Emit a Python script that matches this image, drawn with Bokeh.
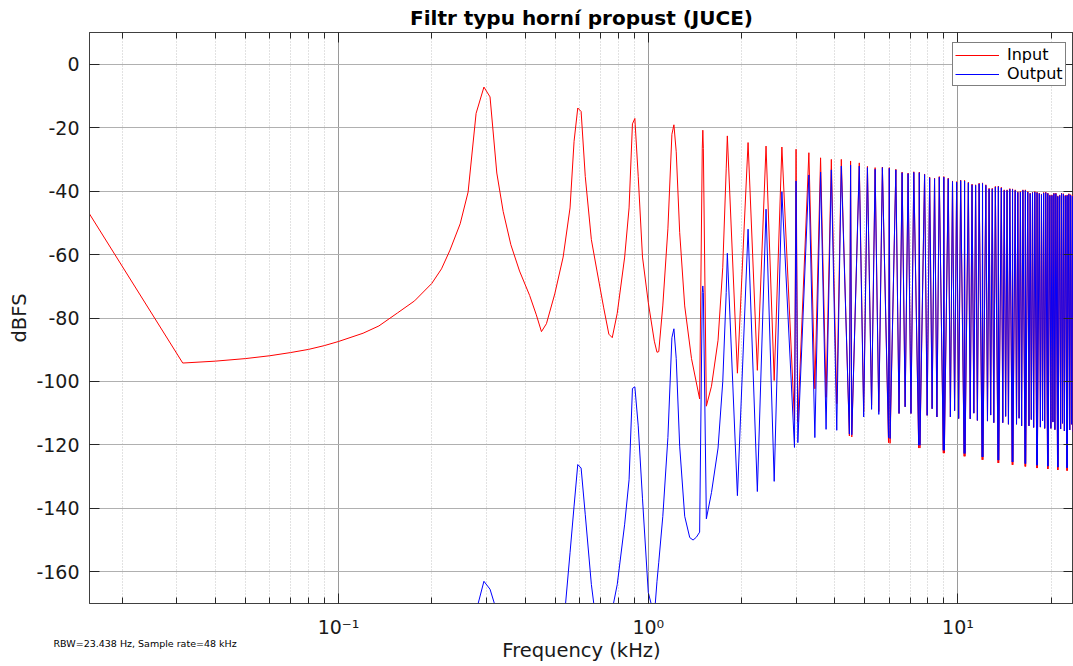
from bokeh.plotting import figure
from bokeh.models import (Range1d, FixedTicker, CustomJSTickFormatter, LogAxis, LinearAxis,
                          Title, Legend, LegendItem)
from bokeh.embed import file_html
from bokeh.resources import INLINE

# ---------------- data ----------------
# low-frequency part of the input spectrum (kHz, dBFS)
input_low_khz = [0.0157, 0.0314, 0.040, 0.050, 0.060, 0.070, 0.080, 0.090, 0.100, 0.120,
                 0.135, 0.155, 0.176, 0.200, 0.215, 0.229, 0.247, 0.262, 0.278, 0.2947,
                 0.3084, 0.3243, 0.340, 0.360, 0.384, 0.414, 0.435, 0.452, 0.469, 0.499,
                 0.531, 0.559, 0.576, 0.592, 0.607, 0.626, 0.655, 0.683, 0.718, 0.746,
                 0.765, 0.794, 0.839, 0.867, 0.889, 0.905, 0.928, 0.958, 1.000, 1.046,
                 1.067, 1.081, 1.114, 1.157, 1.192, 1.210, 1.231, 1.263, 1.311, 1.379,
                 1.465]
input_low_db = [-47.2, -94.2, -93.6, -92.8, -91.9, -90.9, -89.9, -88.7, -87.4, -84.8,
                -82.5, -78.4, -74.6, -69.1, -64.5, -58.6, -50.3, -40.3, -15.5, -7.2,
                -10.3, -34.3, -46.4, -56.9, -65.2, -72.9, -79.0, -84.3, -81.8, -72.4,
                -60.8, -45.3, -24.3, -13.8, -14.9, -35.4, -55.3, -65.2, -76.8, -85.1,
                -86.2, -78.5, -60.8, -45.3, -18.8, -17.1, -35.4, -60.8, -75.1, -87.3,
                -90.8, -90.6, -76.2, -51.9, -22.1, -19.1, -27.6, -53.0, -76.2, -92.8,
                -105.5]

# low-frequency part of the output spectrum (values below -170 are off the chart)
output_low_khz = [0.262, 0.278, 0.2947, 0.3084, 0.3243, 0.360, 0.452, 0.531, 0.559, 0.576,
                  0.592, 0.607, 0.626, 0.655, 0.683, 0.746, 0.765, 0.794, 0.839, 0.867,
                  0.889, 0.905, 0.928, 0.958, 1.000, 1.046, 1.067, 1.081, 1.114, 1.157,
                  1.192, 1.210, 1.231, 1.263, 1.311, 1.361, 1.395, 1.430, 1.465]
output_low_db = [-190.0, -172.5, -163.0, -165.5, -172.5, -190.0, -200.0, -178.8, -154.0, -139.3,
                 -126.2, -127.3, -142.0, -164.0, -178.0, -190.0, -172.0, -164.0, -145.0, -131.0,
                 -102.2, -101.7, -114.0, -137.0, -166.5, -174.0, -163.0, -157.0, -142.6, -117.7,
                 -86.2, -83.4, -92.8, -120.4, -142.5, -149.2, -150.0, -149.1, -147.5]

# harmonic region (peaks and troughs) from the 5th harmonic upwards
harm_khz = [1.494, 1.500, 1.506, 1.540, 1.600, 1.680, 1.740, 1.785, 1.800, 1.940,
            2.100, 2.250, 2.400, 2.550, 2.700, 2.965, 3.000, 3.040, 3.300, 3.450,
            3.600, 3.750, 3.900, 4.060, 4.200, 4.460, 4.500, 4.540, 4.800, 4.960,
            5.100, 5.260, 5.400, 5.550, 5.700, 5.965, 6.000, 6.035,
            6.300, 6.450, 6.600, 6.750, 6.900, 7.050, 7.200, 7.465, 7.500, 7.535,
            7.800, 7.950, 8.100, 8.250, 8.400, 8.550, 8.700, 8.965, 9.000, 9.035,
            9.300, 9.450, 9.600, 9.750, 9.900, 10.050, 10.200, 10.465, 10.500, 10.535,
            10.800, 10.950, 11.100, 11.250, 11.400, 11.550, 11.700, 11.965, 12.000, 12.035,
            12.300, 12.450, 12.600, 12.750, 12.900, 13.050, 13.200, 13.465, 13.500, 13.535,
            13.800, 13.950, 14.100, 14.250, 14.400, 14.550, 14.700, 14.965, 15.000, 15.035,
            15.300, 15.450, 15.600, 15.750, 15.900, 16.050, 16.200, 16.465, 16.500, 16.535,
            16.800, 16.950, 17.100, 17.250, 17.400, 17.550, 17.700, 17.965, 18.000, 18.035,
            18.300, 18.450, 18.600, 18.750, 18.900, 19.050, 19.200, 19.465, 19.500, 19.535,
            19.800, 19.950, 20.100, 20.250, 20.400, 20.550, 20.700, 20.965, 21.000, 21.035,
            21.300, 21.450, 21.600, 21.750, 21.900, 22.050, 22.200, 22.465, 22.500, 22.535,
            22.800, 22.950, 23.100, 23.250, 23.400, 23.550, 23.700, 23.965, 24.000]
harm_input_db = [-26.5, -20.8, -26.5, -107.8, -101.5, -87.0, -64.0, -33.0, -22.6, -97.4,
                 -24.7, -96.5, -25.8, -99.7, -26.1, -112.2, -26.8, -112.8, -27.9, -102.3,
                 -29.5, -105.0, -30.0, -107.0, -30.0, -117.2, -30.5, -117.5, -31.1, -109.5,
                 -32.2, -107.5, -32.6, -109.5, -32.4, -119.3, -32.6, -119.5,
                 -33.1, -110.1, -34.0, -108.0, -34.3, -110.1, -33.9, -121.0, -34.0, -121.0,
                 -34.6, -110.7, -35.6, -108.6, -35.9, -111.2, -35.4, -122.6, -35.4, -122.6,
                 -35.9, -111.2, -36.8, -109.2, -37.0, -111.7, -36.5, -123.6, -36.6, -123.6,
                 -37.2, -111.8, -37.8, -110.0, -38.0, -112.3, -37.5, -124.7, -37.4, -124.7,
                 -38.0, -112.5, -39.1, -110.6, -39.1, -113.0, -38.5, -125.7, -38.4, -125.7,
                 -38.8, -113.0, -39.6, -111.0, -39.6, -113.5, -39.2, -126.3, -39.3, -126.3,
                 -39.6, -113.5, -40.2, -111.6, -40.1, -114.0, -39.6, -126.8, -39.6, -126.8,
                 -40.1, -114.0, -40.6, -112.0, -40.3, -114.5, -40.1, -127.3, -40.3, -127.3,
                 -40.6, -114.4, -40.9, -112.4, -40.4, -114.8, -40.3, -127.6, -40.6, -127.6,
                 -41.2, -114.8, -41.2, -112.8, -40.6, -115.2, -40.6, -127.9, -41.5, -127.9,
                 -41.2, -115.0, -40.6, -113.2, -40.8, -115.6, -41.3, -128.1, -41.2, -128.1,
                 -40.8, -115.3, -41.1, -113.5, -41.4, -115.8, -41.0, -128.2, -41.2]
harm_output_db = [-72.0, -69.9, -72.0, -143.3, -135.0, -121.0, -100.0, -72.0, -59.6, -136.0,
                  -52.0, -134.7, -45.7, -131.5, -40.2, -120.8, -36.8, -119.3, -34.9, -117.7,
                  -34.0, -115.1, -33.3, -115.4, -32.1, -116.6, -31.8, -116.8, -32.1, -111.2,
                  -32.6, -108.8, -33.1, -110.4, -32.6, -117.7, -32.8, -118.0,
                  -33.3, -110.1, -34.2, -108.0, -34.5, -110.1, -34.1, -120.1, -34.2, -120.1,
                  -34.8, -110.7, -35.8, -108.6, -36.1, -111.2, -35.6, -121.7, -35.6, -121.7,
                  -36.1, -111.2, -37.0, -109.2, -37.2, -111.7, -36.7, -122.7, -36.8, -122.7,
                  -37.4, -111.8, -38.0, -110.0, -38.2, -112.3, -37.7, -123.8, -37.6, -123.8,
                  -38.2, -112.5, -39.3, -110.6, -39.3, -113.0, -38.7, -124.8, -38.6, -124.8,
                  -39.0, -113.0, -39.8, -111.0, -39.8, -113.5, -39.4, -125.4, -39.5, -125.4,
                  -39.8, -113.5, -40.4, -111.6, -40.3, -114.0, -39.8, -125.9, -39.8, -125.9,
                  -40.3, -114.0, -40.8, -112.0, -40.5, -114.5, -40.3, -126.4, -40.5, -126.4,
                  -40.8, -114.4, -41.1, -112.4, -40.6, -114.8, -40.5, -126.7, -40.8, -126.7,
                  -41.4, -114.8, -41.4, -112.8, -40.8, -115.2, -40.8, -127.0, -41.7, -127.0,
                  -41.4, -115.0, -40.8, -113.2, -41.0, -115.6, -41.5, -127.2, -41.4, -127.2,
                  -41.0, -115.3, -41.3, -113.5, -41.6, -115.8, -41.2, -127.3, -41.4]

x_major_ticks = [0.1, 1.0, 10.0]
x_minor_ticks = [0.02, 0.03, 0.04, 0.05, 0.06, 0.07, 0.08, 0.09,
                 0.2, 0.3, 0.4, 0.5, 0.6, 0.7, 0.8, 0.9,
                 2, 3, 4, 5, 6, 7, 8, 9, 20]
y_ticks = [-160, -140, -120, -100, -80, -60, -40, -20, 0]

title_text = "Filtr typu horní propust (JUCE)"
x_label = "Frequency (kHz)"
y_label = "dBFS"
note_text = "RBW=23.438 Hz, Sample rate=48 kHz"
series_names = ["Input", "Output"]

# ---------------- figure ----------------
FONT = "DejaVu Sans"
p = figure(width=1073, height=666, x_axis_type="log",
           x_range=Range1d(0.0157, 23.6), y_range=Range1d(-170, 10),
           output_backend="svg", toolbar_location=None,
           min_border_left=89, min_border_right=0, min_border_top=32, min_border_bottom=63)
p.background_fill_color = "white"
p.border_fill_color = "white"
p.outline_line_color = "#404040"
p.outline_line_width = 1

p.title.text = title_text
p.title.align = "center"
p.title.text_font = FONT
p.title.text_font_size = "20px"
p.title.text_font_style = "bold"
p.title.text_color = "black"
p.title.standoff = 5
p.title.offset = 0

xt = FixedTicker(ticks=x_major_ticks, minor_ticks=x_minor_ticks)
yt = FixedTicker(ticks=y_ticks, minor_ticks=[])

sup_code = """
const e = Math.round(Math.log10(tick));
const m = {'-':'\\u207b','0':'\\u2070','1':'\\u00b9','2':'\\u00b2','3':'\\u00b3','4':'\\u2074','5':'\\u2075','6':'\\u2076','7':'\\u2077','8':'\\u2078','9':'\\u2079'};
return '10' + String(e).split('').map(c => m[c]).join('');
"""
blank_code = "return '';"

xa = p.xaxis[0]
xa.ticker = xt
xa.formatter = CustomJSTickFormatter(code=sup_code)
ya = p.yaxis[0]
ya.ticker = yt
ya.formatter = CustomJSTickFormatter(code="return tick.toFixed(0);")
ya.axis_label = y_label

for ax in (xa, ya):
    ax.axis_line_color = "#404040"
    ax.major_tick_line_color = "#262626"
    ax.minor_tick_line_color = "#262626"
    ax.major_tick_in = 10
    ax.major_tick_out = 0
    ax.minor_tick_in = 6
    ax.minor_tick_out = 0
    ax.major_label_text_font = FONT
    ax.major_label_text_font_size = "19px"
    ax.major_label_text_color = "#1a1a1a"
    ax.axis_label_text_font = FONT
    ax.axis_label_text_font_size = "19.5px"
    ax.axis_label_text_font_style = "normal"
    ax.axis_label_text_color = "#1a1a1a"
xa.major_label_standoff = 12
ya.major_label_standoff = 10
ya.axis_label_standoff = 2

top_ax = LogAxis(ticker=xt, formatter=CustomJSTickFormatter(code=blank_code),
                 major_label_text_font_size="1px", major_label_standoff=0,
                 major_tick_in=10, major_tick_out=0, minor_tick_in=6, minor_tick_out=0,
                 axis_line_color="#404040", major_tick_line_color="#262626",
                 minor_tick_line_color="#262626")
right_ax = LinearAxis(ticker=yt, formatter=CustomJSTickFormatter(code=blank_code),
                      major_label_text_font_size="1px", major_label_standoff=0,
                      major_tick_in=10, major_tick_out=0, minor_tick_in=0, minor_tick_out=0,
                      axis_line_color="#404040", major_tick_line_color="#262626")
p.add_layout(top_ax, "above")
p.add_layout(right_ax, "right")

# bottom texts stacked under the x axis: the small note (left) and the axis title (centre)
note_title = Title(text=note_text, align="left", vertical_align="top", offset=-36, standoff=-6,
                   text_font=FONT, text_font_size="9.5px", text_font_style="normal",
                   text_color="black")
xlabel_title = Title(text=x_label, align="center", vertical_align="top", standoff=-18,
                     text_font=FONT, text_font_size="19.5px", text_font_style="normal",
                     text_color="#1a1a1a")
p.add_layout(note_title, "below")
p.add_layout(xlabel_title, "below")

p.xgrid.ticker = xt
p.ygrid.ticker = yt
p.xgrid.grid_line_color = "#9a9a9a"
p.xgrid.minor_grid_line_color = "#c4c4c4"
p.xgrid.minor_grid_line_dash = "1 2"
p.ygrid.grid_line_color = "#b0b0b0"

r_in = p.line(input_low_khz + harm_khz, input_low_db + harm_input_db,
              line_color="#ff0000", line_width=1)
r_out = p.line(output_low_khz + harm_khz, output_low_db + harm_output_db,
               line_color="#0000ff", line_width=1)

legend = Legend(items=[LegendItem(label=series_names[0], renderers=[r_in]),
                       LegendItem(label=series_names[1], renderers=[r_out])],
                location=(863, 517), margin=0, padding=2, spacing=0,
                glyph_width=44, glyph_height=16, label_height=16, label_standoff=8,
                label_text_font=FONT, label_text_font_size="16px", label_text_color="black",
                label_text_line_height=1.0,
                border_line_color="black", border_line_width=1,
                background_fill_color="white", background_fill_alpha=1.0)
p.add_layout(legend)

open("out.html", "w").write(file_html(p, INLINE))
